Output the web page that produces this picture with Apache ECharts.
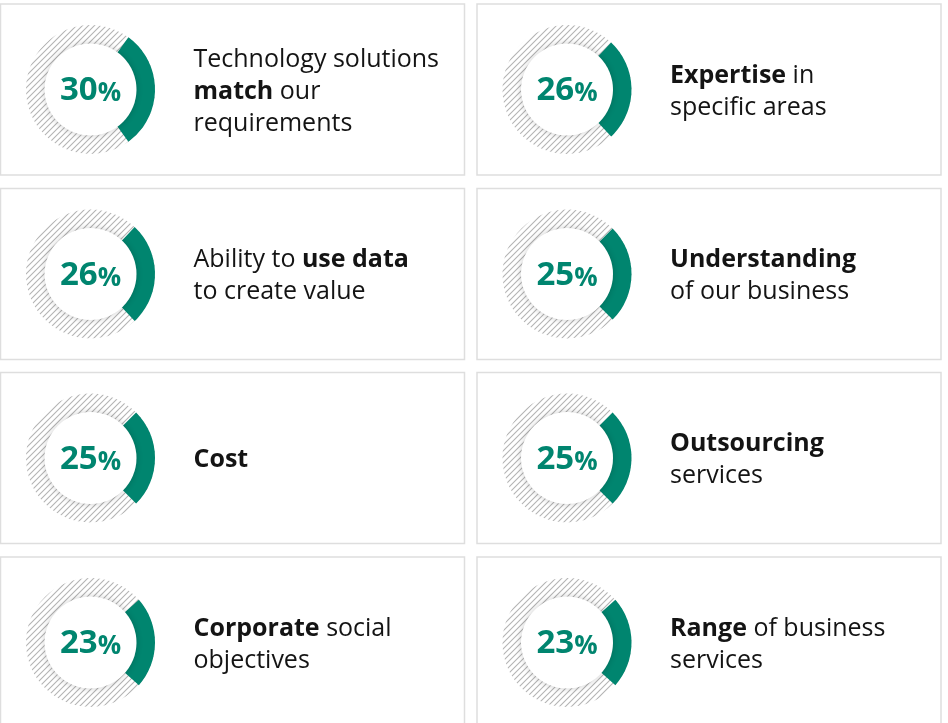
<!DOCTYPE html>
<html>
<head>
<meta charset="utf-8">
<script src="https://cdn.jsdelivr.net/npm/echarts@6/dist/echarts.min.js"></script>
<style>
  html, body { margin: 0; padding: 0; background: #fff; }
  #chart { width: 948px; height: 723px; }
</style>
</head>
<body>
<div id="chart"></div>
<script>
// chart data
const values = [30, 26, 26, 25, 25, 25, 23, 23];
const labelLines = [
  ['Technology solutions', '{b|match} our', 'requirements'],
  ['{b|Expertise} in', 'specific areas'],
  ['Ability to {b|use data}', 'to create value'],
  ['{b|Understanding}', 'of our business'],
  ['{b|Cost}'],
  ['{b|Outsourcing}', 'services'],
  ['{b|Corporate} social', 'objectives'],
  ['{b|Range} of business', 'services']
];

const GREEN = '#00856f';
const FONT = "'Open Sans', 'Noto Sans', sans-serif";

// card layout
const colX = [0.5, 477];
const rowY = [4, 188.5, 372.5, 557];
const cardW = 464;
const cardH = 171;

// hatched pattern for the ring background
function makeHatch() {
  const s = 6;
  const c = document.createElement('canvas');
  c.width = s; c.height = s;
  const ctx = c.getContext('2d');
  ctx.strokeStyle = '#b4b4b4';
  ctx.lineWidth = 1.1;
  ctx.beginPath();
  ctx.moveTo(0, s); ctx.lineTo(s, 0);
  ctx.moveTo(-1, 1); ctx.lineTo(1, -1);
  ctx.moveTo(s - 1, s + 1); ctx.lineTo(s + 1, s - 1);
  ctx.stroke();
  return c;
}
const hatch = makeHatch();

const chart = echarts.init(document.getElementById('chart'), null, { renderer: 'canvas' });

const series = [];
const graphic = [];

values.forEach((v, i) => {
  const col = i % 2;
  const row = Math.floor(i / 2);
  const x0 = colX[col];
  const y0 = rowY[row];
  const cx = x0 + 90;
  const cy = y0 + cardH / 2;

  graphic.push({
    type: 'rect',
    shape: { x: x0, y: y0, width: cardW, height: cardH },
    style: { fill: '#fff', stroke: '#dedede', lineWidth: 1.5 },
    z: 0
  });

  graphic.push({
    type: 'text',
    x: x0 + 193,
    y: cy + 2,
    z: 10,
    style: {
      text: labelLines[i].join('\n'),
      fontSize: 25,
      fontFamily: FONT,
      fill: '#141414',
      lineHeight: 32,
      verticalAlign: 'middle',
      rich: {
        b: { fontWeight: 'bold', fontSize: 25, fontFamily: FONT, lineHeight: 32, fill: '#141414' }
      }
    }
  });

  // hatched ring
  series.push({
    type: 'pie',
    center: [cx, cy],
    radius: [44, 64.5],
    silent: true,
    label: { show: false },
    labelLine: { show: false },
    data: [{ value: 1, itemStyle: { color: { image: hatch, repeat: 'repeat' } } }],
    z: 2
  });

  // value arc, centred on 3 o'clock
  series.push({
    type: 'pie',
    center: [cx, cy],
    radius: [44, 64.5],
    startAngle: v * 1.8,
    clockwise: true,
    silent: true,
    label: { show: false },
    labelLine: { show: false },
    data: [
      { value: v, itemStyle: { color: GREEN } },
      { value: 100 - v, itemStyle: { color: 'rgba(0,0,0,0)' } }
    ],
    z: 3
  });

  // inner white disc with the percentage
  series.push({
    type: 'pie',
    center: [cx, cy],
    radius: [0, 46],
    silent: true,
    labelLine: { show: false },
    data: [{
      value: v,
      itemStyle: { color: '#fff', shadowBlur: 6, shadowColor: 'rgba(0,0,0,0.2)' },
      label: {
        show: true,
        position: 'center',
        formatter: '{n|' + v + '}{p|%}',
        rich: {
          n: { fontFamily: FONT, fontWeight: 'bold', fontSize: 33, color: GREEN, padding: [3, 0, 0, 0] },
          p: { fontFamily: FONT, fontWeight: 'bold', fontSize: 26, color: GREEN, padding: [9, 0, 0, 0] }
        }
      }
    }],
    z: 4
  });
});

chart.setOption({
  backgroundColor: '#fff',
  animation: false,
  graphic: graphic,
  series: series
});
</script>
</body>
</html>
